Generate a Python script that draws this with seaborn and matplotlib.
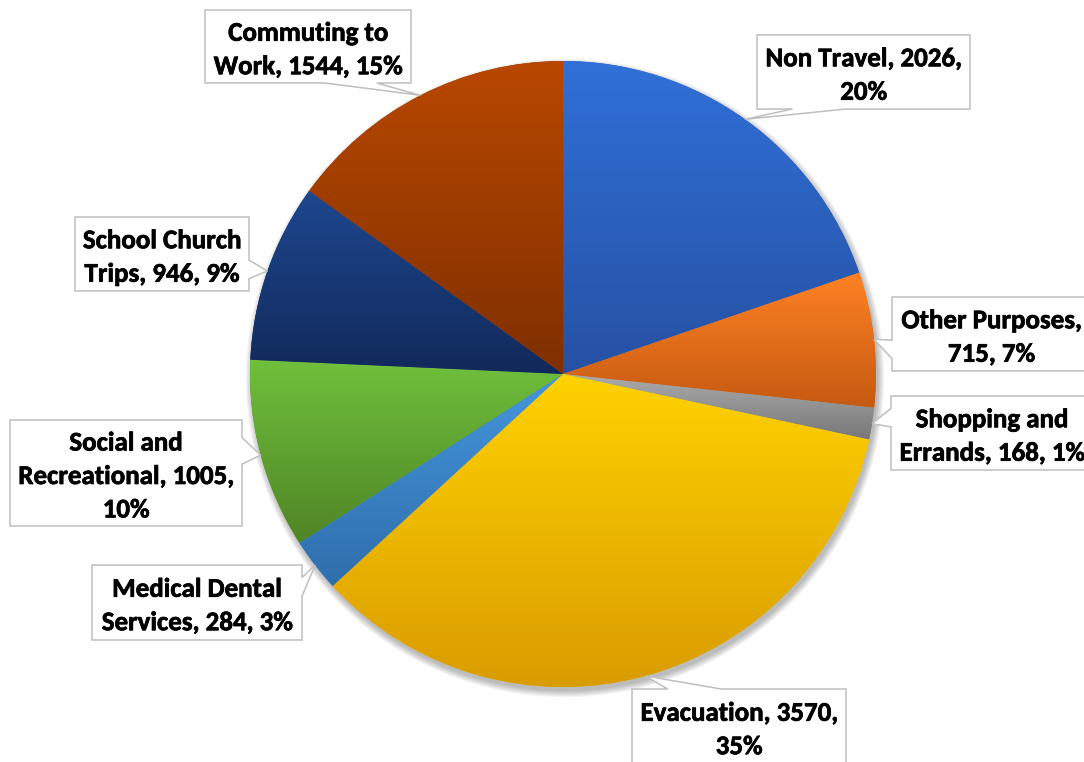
import textwrap
import numpy as np
import matplotlib
matplotlib.use("Agg")
import matplotlib.pyplot as plt
import matplotlib.patheffects as pe
from matplotlib.patches import Polygon, Circle
import seaborn as sns

# ---------------- data ----------------
categories = ["Non Travel", "Other Purposes", "Shopping and Errands", "Evacuation",
              "Medical Dental Services", "Social and Recreational",
              "School Church Trips", "Commuting to Work"]
values = [2026, 715, 168, 3570, 284, 1005, 946, 1544]
percents = [20, 7, 1, 35, 3, 10, 9, 15]

# gradient colours (top, bottom) per slice
top_colors = ["#3070d8", "#ff8124", "#ababab", "#ffd200",
              "#4596dd", "#70c03c", "#1e478f", "#b84800"]
bottom_colors = ["#2651a3", "#c55a11", "#777777", "#d99c00",
                 "#2f6eab", "#4f8526", "#11295a", "#7f2f00"]

# ---------------- layout (pixels, y down) ----------------
W, H = 1084, 762
CX, CY, R = 563, 374, 313
wrap_widths = [18, 16, 16, 18, 17, 19, 14, 15]
boxes = [  # left, top, right, bottom
    (757, 35, 970, 109),
    (892, 297, 1091, 371),
    (891, 396, 1093, 470),
    (632, 689, 846, 764),
    (92, 565, 302, 640),
    (10, 420, 242, 526),
    (75, 217, 249, 291),
    (205, 10, 411, 83),
]

sns.set_theme(style="white")
plt.rcParams["font.family"] = ["Carlito", "Lato", "DejaVu Sans"]

fig = plt.figure(figsize=(W / 100, H / 100), dpi=100)
ax = fig.add_axes([0, 0, 1, 1])


def py(y):
    return H - y


# soft shadow
for i in range(8):
    ax.add_patch(Circle((CX + 2, py(CY) - 4), R + i * 0.9, color="black",
                        alpha=0.035, lw=0, zorder=0))

wedges, _ = ax.pie(values, colors=top_colors, startangle=90, counterclock=False,
                   center=(CX, py(CY)), radius=R,
                   wedgeprops=dict(linewidth=0))

for w, c_top, c_bot in zip(wedges, top_colors, bottom_colors):
    w.set_zorder(1)
    w.set_facecolor(sns.blend_palette([c_top, c_bot], 3)[1])
    ext = w.get_path().get_extents()
    grad = np.array(sns.blend_palette([c_bot, c_top], n_colors=256))[:, :3]
    grad = grad.reshape(256, 1, 3)
    im = ax.imshow(grad, extent=(ext.x0, ext.x1, ext.y0, ext.y1), origin="lower",
                   aspect="auto", interpolation="bilinear", zorder=2)
    im.set_clip_path(w)


def callout(box, tip):
    l, t, r, b = box
    w, h = r - l, b - t
    hc, vc = (l + r) / 2, (t + b) / 2
    xp, yp = tip
    dx, dy = xp - hc, yp - vc
    dq = dx * h / w
    dz = abs(dy) - abs(dq)
    fx = (7, 10) if dx > 0 else (2, 5)
    fy = (7, 10) if dy > 0 else (2, 5)
    x1, x2 = l + w * fx[0] / 12, l + w * fx[1] / 12
    y1, y2 = t + h * fy[0] / 12, t + h * fy[1] / 12
    pts = [(l, t)]
    if dz > 0 and dy < 0:
        pts += [(x1, t), (xp, yp), (x2, t)]
    pts += [(r, t)]
    if dz <= 0 and dx > 0:
        pts += [(r, y1), (xp, yp), (r, y2)]
    pts += [(r, b)]
    if dz > 0 and dy > 0:
        pts += [(x2, b), (xp, yp), (x1, b)]
    pts += [(l, b)]
    if dz <= 0 and dx < 0:
        pts += [(l, y2), (xp, yp), (l, y1)]
    return [(x, py(y)) for x, y in pts]


for w, cat, val, pct, box, ww in zip(wedges, categories, values, percents, boxes, wrap_widths):
    theta = np.deg2rad((w.theta1 + w.theta2) / 2)
    tip = (CX + R * np.cos(theta), CY - R * np.sin(theta))
    poly = Polygon(callout(box, tip), closed=True, facecolor="white",
                   edgecolor="#bfbfbf", linewidth=1.1, zorder=5)
    ax.add_patch(poly)
    label = textwrap.fill(f"{cat}, {val}, {pct}%", width=ww)
    l, t, r, b = box
    ax.text((l + r) / 2, py((t + b) / 2 + 3.5), label, ha="center", va="center",
            multialignment="center", fontsize=19.4, fontweight="bold",
            color="black", linespacing=1.55, zorder=6,
            path_effects=[pe.withStroke(linewidth=0.5, foreground="black")])

ax.set_xlim(0, W)
ax.set_ylim(0, H)
ax.set_aspect("equal")
ax.axis("off")
fig.savefig("out.png", dpi=100, facecolor="white")
